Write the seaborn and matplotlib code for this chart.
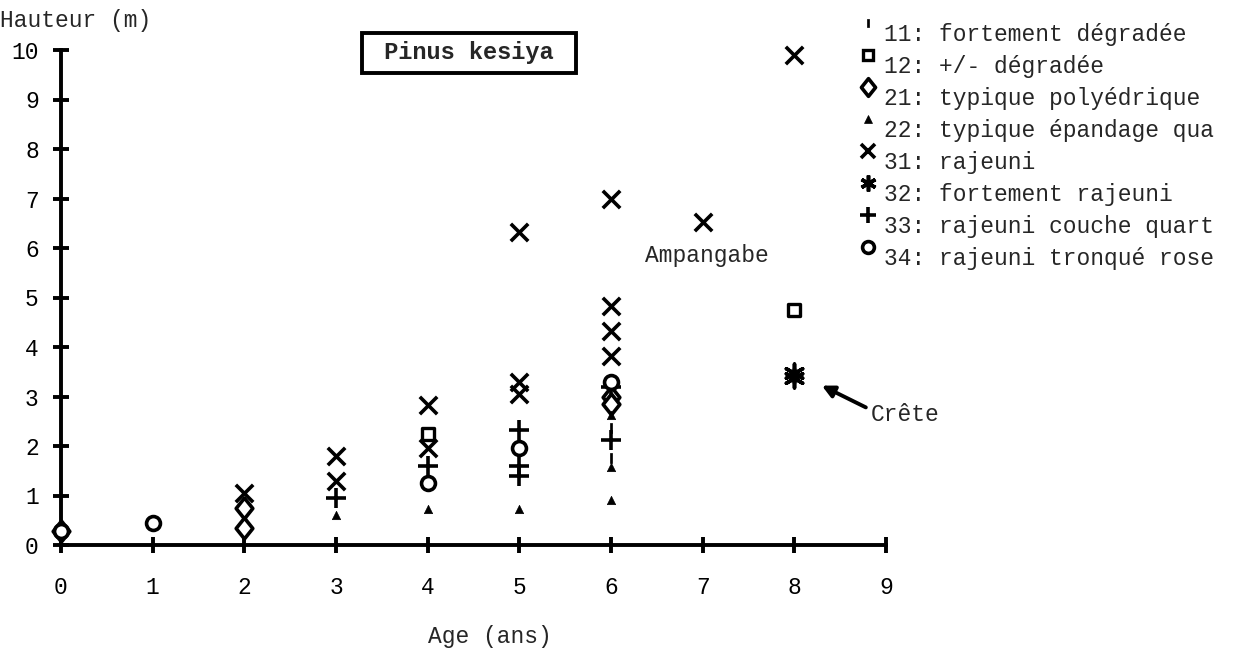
import matplotlib
matplotlib.use("Agg")
import matplotlib.pyplot as plt
import seaborn as sns
import pandas as pd
from matplotlib.path import Path

sns.set_style("white")
plt.rcParams['font.family'] = ['Liberation Mono', 'DejaVu Sans Mono']

# ---- data ----
labels = ["11: fortement dégradée", "12: +/- dégradée", "21: typique polyédrique",
          "22: typique épandage qua", "31: rajeuni", "32: fortement rajeuni",
          "33: rajeuni couche quart", "34: rajeuni tronqué rose"]
age_11 = [6, 6]
h_11 = [2.36, 1.76]
age_12 = [4, 8]
h_12 = [2.25, 4.75]
age_21 = [0, 2, 2, 6, 6]
h_21 = [0.28, 0.75, 0.35, 3.0, 2.85]
age_22 = [3, 4, 5, 6, 6, 6]
h_22 = [0.6, 0.72, 0.72, 2.63, 1.58, 0.91]
age_31 = [2, 3, 3, 4, 4, 5, 5, 5, 6, 6, 6, 6, 7, 8]
h_31 = [1.05, 1.8, 1.3, 2.83, 1.95, 6.33, 3.3, 3.05, 7.0, 4.83, 4.32, 3.82, 6.53, 9.9]
age_32 = [8, 8]
h_32 = [3.48, 3.38]
age_33 = [3, 4, 5, 5, 5, 6, 6]
h_33 = [0.95, 1.6, 2.32, 1.6, 1.4, 3.2, 2.12]
age_34 = [0, 1, 4, 5, 6]
h_34 = [0.28, 0.45, 1.25, 1.96, 3.3]

x_ticks = list(range(0, 10))
y_ticks = list(range(0, 11))

ages = [age_11, age_12, age_21, age_22, age_31, age_32, age_33, age_34]
heights = [h_11, h_12, h_21, h_22, h_31, h_32, h_33, h_34]

rect = Path([(-0.3, -1), (0.3, -1), (0.3, 1), (-0.3, 1), (-0.3, -1)],
            [Path.MOVETO, Path.LINETO, Path.LINETO, Path.LINETO, Path.CLOSEPOLY])
diamond = Path([(0, -1), (0.8, 0), (0, 1), (-0.8, 0), (0, -1)],
               [Path.MOVETO, Path.LINETO, Path.LINETO, Path.LINETO, Path.CLOSEPOLY])

# marker, size(pt), facecolor, linewidth
styles = [
    (rect, 7, 'black', 0.5),
    ('s', 9, 'white', 2.4),
    (diamond, 15, 'white', 2.6),
    ('^', 6, 'black', 0.5),
    ('x', 12.5, 'black', 2.6),
    ((6, 2, 0), 13.5, 'black', 2.6),
    ('+', 14, 'black', 2.6),
    ('o', 10, 'white', 2.6),
]

W, H = 1236, 652
FS = 16.5
fig = plt.figure(figsize=(W / 100, H / 100), dpi=100)
ax = fig.add_axes([61 / W, 1 - 545 / H, (886 - 61) / W, (545 - 50) / H])

for a, h, (m, ms, fc, lw) in zip(ages, heights, styles):
    df = pd.DataFrame({"age": a, "h": h})
    sns.scatterplot(data=df, x="age", y="h", ax=ax, marker=m, s=ms ** 2,
                    color='black', facecolor=fc, edgecolor='black',
                    linewidth=lw, clip_on=False, zorder=3, legend=False)

ax.set_xlim(0, 9)
ax.set_ylim(0, 10)
ax.set_xticks(x_ticks)
ax.set_yticks(y_ticks)
ax.set_xticklabels([str(v) for v in x_ticks])
ax.set_yticklabels([str(v) for v in y_ticks])
for s in ['top', 'right']:
    ax.spines[s].set_visible(False)
for s in ['left', 'bottom']:
    ax.spines[s].set_linewidth(2.8)
    ax.spines[s].set_color('black')
ax.tick_params(axis='both', direction='inout', length=12, width=2.8,
               labelsize=FS, colors='black', bottom=True, left=True)
ax.tick_params(axis='x', pad=16)
ax.tick_params(axis='y', pad=10)
ax.set_xlabel("")
ax.set_ylabel("")
ax.patch.set_alpha(0)

# annotations
ax.text(7.05, 5.84, "Ampangabe", ha='center', va='center', fontsize=FS)
ax.text(8.83, 2.63, "Crête", ha='left', va='center', fontsize=FS)
ax.annotate('', xy=(8.30, 3.22), xytext=(8.78, 2.78),
            arrowprops=dict(arrowstyle='-|>', lw=2.8, color='black',
                            mutation_scale=18, shrinkA=0, shrinkB=0))

fig.text(0 / W, 1 - 20 / H, "Hauteur (m)", ha='left', va='center', fontsize=FS)
fig.text(490 / W, 1 - 637 / H, "Age (ans)", ha='center', va='center', fontsize=FS)
fig.text(469 / W, 1 - 53 / H, " Pinus kesiya ", ha='center', va='center',
         fontsize=17, fontweight='bold',
         bbox=dict(boxstyle='square,pad=0.35', fc='white', ec='black', lw=2.8))

# legend drawn in pixel coordinates
lg = fig.add_axes([0, 0, 1, 1])
lg.set_xlim(0, W)
lg.set_ylim(H, 0)
lg.axis('off')
lg.patch.set_alpha(0)
for i, (lab, (m, ms, fc, lw)) in enumerate(zip(labels, styles)):
    ty = 35 + 32 * i
    lg.plot([868], [ty - 12], marker=m, markersize=ms * 0.85,
            markerfacecolor=fc, markeredgecolor='black',
            markeredgewidth=lw, color='black', linestyle='none')
    lg.text(884, ty, lab, ha='left', va='center', fontsize=FS)

fig.savefig("out.png", dpi=100)
